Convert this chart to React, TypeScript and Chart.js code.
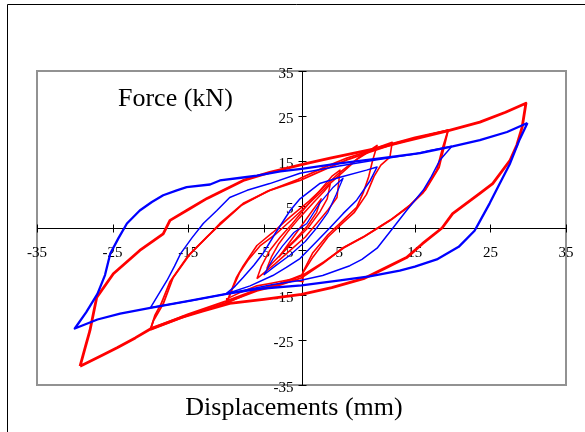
import React, { useEffect, useRef } from "react";
import { Chart, registerables } from "chart.js";
Chart.register(...registerables);

type P = [number, number];

const xTicks = [-35, -25, -15, -5, 5, 15, 25, 35];
const yTicks = [-35, -25, -15, -5, 5, 15, 25, 35];
const xTitle = "Displacements (mm)";
const yTitle = "Force (kN)";

// Blue specimen (displacement mm, force kN)
const blueLoop30: P[] = [
  [29.9, 23.4], [28.8, 19.5], [27.6, 14.4], [26.2, 9.8], [24.9, 5.5], [23.5, 1.2], [22.9, -0.6],
  [20.8, -4.2], [17.9, -7.0], [15, -8.6], [13, -9.5], [9, -10.8], [5.1, -11.7], [0, -12.8],
  [-5.9, -13.6], [-9.9, -14.7], [-14.7, -16.2], [-20, -17.8], [-24, -19.1], [-27, -20.4], [-30, -22.4],
  [-28.5, -18.8], [-27, -14.7], [-26, -10.5], [-25.3, -5.7], [-24.2, -2.2], [-23.1, 1], [-21.4, 3.9],
  [-19.8, 5.8], [-18.3, 7.3], [-16.5, 8.4], [-15.2, 9.1], [-12.1, 9.7], [-10.8, 10.6], [-8, 11.2],
  [-5.9, 11.7], [-2.8, 12.6], [0, 13.2], [5, 14.4], [10.4, 15.5], [15.7, 16.7], [20, 18.2],
  [23.6, 19.6], [27.2, 21.4], [29.9, 23.4],
];
const blueLoop20: P[] = [
  [-20, -17.8], [-19, -15], [-17.8, -11.7], [-16.8, -8.5], [-16, -5.7], [-14.5, -2.2], [-13, 1],
  [-11.2, 3.9], [-9.5, 6.8], [-7.2, 8.4], [-4.2, 9.9], [-0.2, 12.2], [5, 13.8], [10, 15.2],
  [15, 16.5], [17, 17.3], [19.9, 18.2], [18.3, 15.1], [17.2, 11.5], [16.1, 8.4], [13.9, 3.9],
  [12.1, 0], [10, -4.5], [8, -7], [6.4, -8.4], [2.8, -10.6], [-0.2, -11.7], [-3.8, -12.6],
  [-10, -14.7], [-14.7, -16.2], [-20, -17.8],
];
const blueLoop10: P[] = [
  [-10, -14.7], [-8.8, -13], [-7.7, -11], [-6.3, -8.3], [-5.1, -5.7], [-3.4, -1], [-1.5, 3.9],
  [-0.2, 6.5], [2.4, 9.9], [5.1, 11.3], [8.6, 12.9], [10, 13.6], [9.1, 10.6], [7.3, 6.2],
  [5.5, 3.2], [3.8, 0.1], [2, -3], [-0.2, -6.8], [-2, -8.8], [-3.8, -10.6], [-6.8, -12.9], [-10, -14.7],
];
const blueLoop5: P[] = [
  [-5, -10.5], [-3.8, -7], [-2.5, -4], [-1, -1], [0.7, 1], [2.4, 5.5], [4.2, 9.1], [5.5, 11.1],
  [4.6, 7.5], [3.5, 3.5], [2, 0], [0.5, -3], [-1.5, -6], [-3.5, -8.5], [-5, -10.5],
];

// Red specimen
const redLoop30: P[] = [
  [-29.3, -30.8], [-28.6, -26.5], [-28, -22.9], [-27.1, -15.5], [-24.9, -10.2], [-21.4, -5],
  [-18.3, -1.3], [-17.4, 1.7], [-14.7, 4.4], [-12.5, 6.6], [-7.7, 10.6], [-4.2, 12.4], [0.7, 14.4],
  [3.8, 15.6], [9.5, 17.6], [13.9, 19.4], [19.2, 21.6], [23.6, 23.6], [27, 25.8], [29.7, 27.8],
  [29.2, 22.5], [28.5, 18.5], [27.6, 15.1], [25.3, 9.9], [23.6, 7.7], [20, 3.2], [18.6, 0],
  [16, -3.5], [13.9, -6.6], [11, -9], [8.2, -11.3], [4, -13.3], [0, -14.8], [-5, -15.9],
  [-9.5, -16.8], [-13, -18.5], [-16, -20], [-20, -22.5], [-22, -24.5], [-24.4, -26.7],
  [-26.5, -28.5], [-29.3, -30.8],
];
const redLoop20a: P[] = [
  [-20, -22.7], [-19.6, -20.7], [-18.3, -16.9], [-17, -11.1], [-14.7, -5.7], [-12.1, -1.3],
  [-10.8, 1], [-7.7, 5.5], [-4.2, 8.4], [-0.2, 10.6], [3, 13], [6, 15.2], [9, 16.9], [12, 18.6],
  [15, 20], [17, 20.8], [19.4, 21.8], [18.7, 18], [17.9, 12.9], [16.1, 7.9], [14, 4.5], [11.7, 1.7],
  [8.1, -2.1], [5.5, -4.4], [2.8, -7.9], [0, -11.1], [-3, -12.8], [-5.9, -14], [-10.1, -16.7],
  [-15, -19.5], [-20, -22.7],
];
const redLoop20b: P[] = [
  [-20, -22.7], [-19.4, -19.5], [-18.6, -17], [-17.4, -12], [-15, -6.2], [-12.5, -2], [-11, 0.4],
  [-8, 5], [-4.5, 8.2], [-0.5, 10.8], [3, 13.5], [6, 15.6], [9, 17.2], [12, 18.8], [15, 20.2],
  [19.4, 21.8], [19, 19], [18.2, 13.5], [16.4, 8.5], [14.3, 5], [12, 2], [8.4, -1.8], [5.8, -4.2],
  [3, -7.5], [0, -10.7], [-3, -12.5], [-6, -13.8], [-10, -16.3], [-15, -19.2], [-20, -22.5],
];
const redLoop10a: P[] = [
  [-9.9, -16.7], [-9.3, -14], [-8.6, -11], [-7.7, -8.4], [-5.9, -3.9], [-3.8, -1], [-1.5, 2.5],
  [1, 6], [3, 9.2], [5, 12.3], [7.5, 15.6], [10, 18.4], [9.4, 15], [8.9, 11.5], [8.2, 8],
  [7.3, 4.6], [5.5, 1.7], [3.5, -1.5], [1.5, -5.5], [0.2, -9.8], [0.2, -12], [-1.5, -11.5],
  [-4, -12.3], [-5.9, -12.9], [-8, -14.3], [-9.9, -15.8], [-9.9, -16.7],
];
const redLoop10b: P[] = [
  [-9.9, -16.7], [-9, -13], [-8.2, -10], [-7, -7], [-5.5, -4], [-3.5, -1.5], [-1.2, 2], [1.2, 5.8],
  [3.5, 9.5], [5.5, 12.5], [7.5, 15.5], [9.5, 17.6], [12, 19.1], [11.7, 15.8], [10.5, 14],
  [9.6, 11.5], [8.6, 7.5], [7, 3.5], [5.5, 1.2], [3.5, -2], [1.5, -6.5], [0, -10.5], [-3, -12.5],
  [-6, -13.8], [-9.9, -16.7],
];
const redLoop5a: P[] = [
  [-5.9, -11.3], [-5.3, -8.5], [-4.2, -5], [-2.8, -2], [-1.2, 1], [0.5, 4.5], [2.5, 8.5], [4, 11.5],
  [5.1, 12.9], [4.7, 6.8], [3.5, 4], [2, 1], [0.5, -2], [-1.5, -5], [-3.5, -8], [-5.9, -11.3],
];
const redLoop5b: P[] = [
  [-4.6, -9.1], [-4, -6.5], [-3, -3.5], [-1.8, -0.8], [-0.3, 2.2], [1.5, 5.5], [3, 8.2], [3.8, 9.8],
  [3.4, 6.5], [2.4, 3.5], [1, 0.3], [-0.8, -2.8], [-2.8, -6], [-4.6, -9.1],
];
const redLoop3: P[] = [
  [-3, -6.5], [-1.5, -3], [0, 0.5], [1.5, 4], [2.6, 6.5], [2, 3.5], [0.8, 0.5], [-0.8, -2.5],
  [-2, -4.5], [-3, -6.5],
];

const pts = (a: P[]) => a.map(([x, y]) => ({ x, y }));

const BLUE = "#0000FF";
const RED = "#FF0000";
const SERIF = "'Liberation Serif', 'Times New Roman', serif";

export default function App() {
  const ref = useRef<HTMLCanvasElement>(null);

  useEffect(() => {
    document.body.style.margin = "0";
    const canvas = ref.current;
    if (!canvas) return;

    const axesPlugin = {
      id: "crossAxes",
      beforeDatasetsDraw(chart: any) {
        const { ctx, chartArea: a } = chart;
        const sx = chart.scales.x;
        const sy = chart.scales.y;
        ctx.save();
        // outer frame
        ctx.strokeStyle = "#000";
        ctx.lineWidth = 1;
        ctx.beginPath();
        ctx.moveTo(7.5, 500);
        ctx.lineTo(7.5, 4.5);
        ctx.lineTo(700, 4.5);
        ctx.stroke();
        // plot box
        ctx.strokeStyle = "#929292";
        ctx.lineWidth = 2;
        ctx.strokeRect(a.left, a.top, a.right - a.left, a.bottom - a.top);

        const x0 = Math.round(sx.getPixelForValue(0)) + 0.5;
        const y0 = Math.round(sy.getPixelForValue(0)) + 0.5;
        ctx.strokeStyle = "#000";
        ctx.lineWidth = 1;
        ctx.beginPath();
        ctx.moveTo(a.left, y0);
        ctx.lineTo(a.right, y0);
        ctx.moveTo(x0, a.top);
        ctx.lineTo(x0, a.bottom);
        for (const t of xTicks) {
          const px = Math.round(sx.getPixelForValue(t)) + 0.5;
          ctx.moveTo(px, y0 - 4);
          ctx.lineTo(px, y0 + 4);
        }
        for (const t of yTicks) {
          const py = Math.round(sy.getPixelForValue(t)) + 0.5;
          ctx.moveTo(x0 - 4, py);
          ctx.lineTo(x0 + 4, py);
        }
        ctx.stroke();

        ctx.fillStyle = "#000";
        ctx.font = `15px ${SERIF}`;
        ctx.textAlign = "center";
        ctx.textBaseline = "middle";
        for (const t of xTicks) {
          ctx.fillText(String(t), sx.getPixelForValue(t), y0 + 25);
        }
        ctx.textAlign = "right";
        for (const t of yTicks) {
          ctx.fillText(String(t), x0 - 9, sy.getPixelForValue(t) + 3);
        }

        ctx.font = `26px ${SERIF}`;
        ctx.textAlign = "left";
        ctx.textBaseline = "alphabetic";
        ctx.fillText(yTitle, 118, 106);
        ctx.textAlign = "center";
        ctx.fillText(xTitle, 294, 415);
        ctx.restore();
      },
    };

    const mk = (label: string, data: P[], color: string, w: number) => ({
      label,
      data: pts(data),
      borderColor: color,
      backgroundColor: color,
      borderWidth: w,
      showLine: true,
      pointRadius: 0,
      tension: 0,
      fill: false,
      borderJoinStyle: "round" as const,
    });

    const chart = new Chart(canvas, {
      type: "scatter",
      data: {
        datasets: [
          mk("blue30", blueLoop30, BLUE, 2.3),
          mk("blue20", blueLoop20, BLUE, 1.5),
          mk("blue10", blueLoop10, BLUE, 1.5),
          mk("blue5", blueLoop5, BLUE, 1.3),
          mk("red30", redLoop30, RED, 2.8),
          mk("red20a", redLoop20a, RED, 1.8),
          mk("red20b", redLoop20b, RED, 1.8),
          mk("red10a", redLoop10a, RED, 1.6),
          mk("red10b", redLoop10b, RED, 1.6),
          mk("red5a", redLoop5a, RED, 1.5),
          mk("red5b", redLoop5b, RED, 1.5),
          mk("red3", redLoop3, RED, 1.5),
        ],
      },
      options: {
        animation: false,
        responsive: false,
        devicePixelRatio: 1,
        layout: { padding: { left: 37, top: 71, right: 19, bottom: 47 } },
        plugins: { legend: { display: false }, tooltip: { enabled: false }, title: { display: false } },
        scales: {
          x: { type: "linear", min: -35, max: 35, display: false },
          y: { type: "linear", min: -35, max: 35, display: false },
        },
      },
      plugins: [axesPlugin],
    });
    return () => chart.destroy();
  }, []);

  return (
    <div style={{ position: "fixed", left: 0, top: 0, width: 585, height: 432, background: "#fff" }}>
      <canvas ref={ref} width={585} height={432} style={{ display: "block" }} />
    </div>
  );
}
